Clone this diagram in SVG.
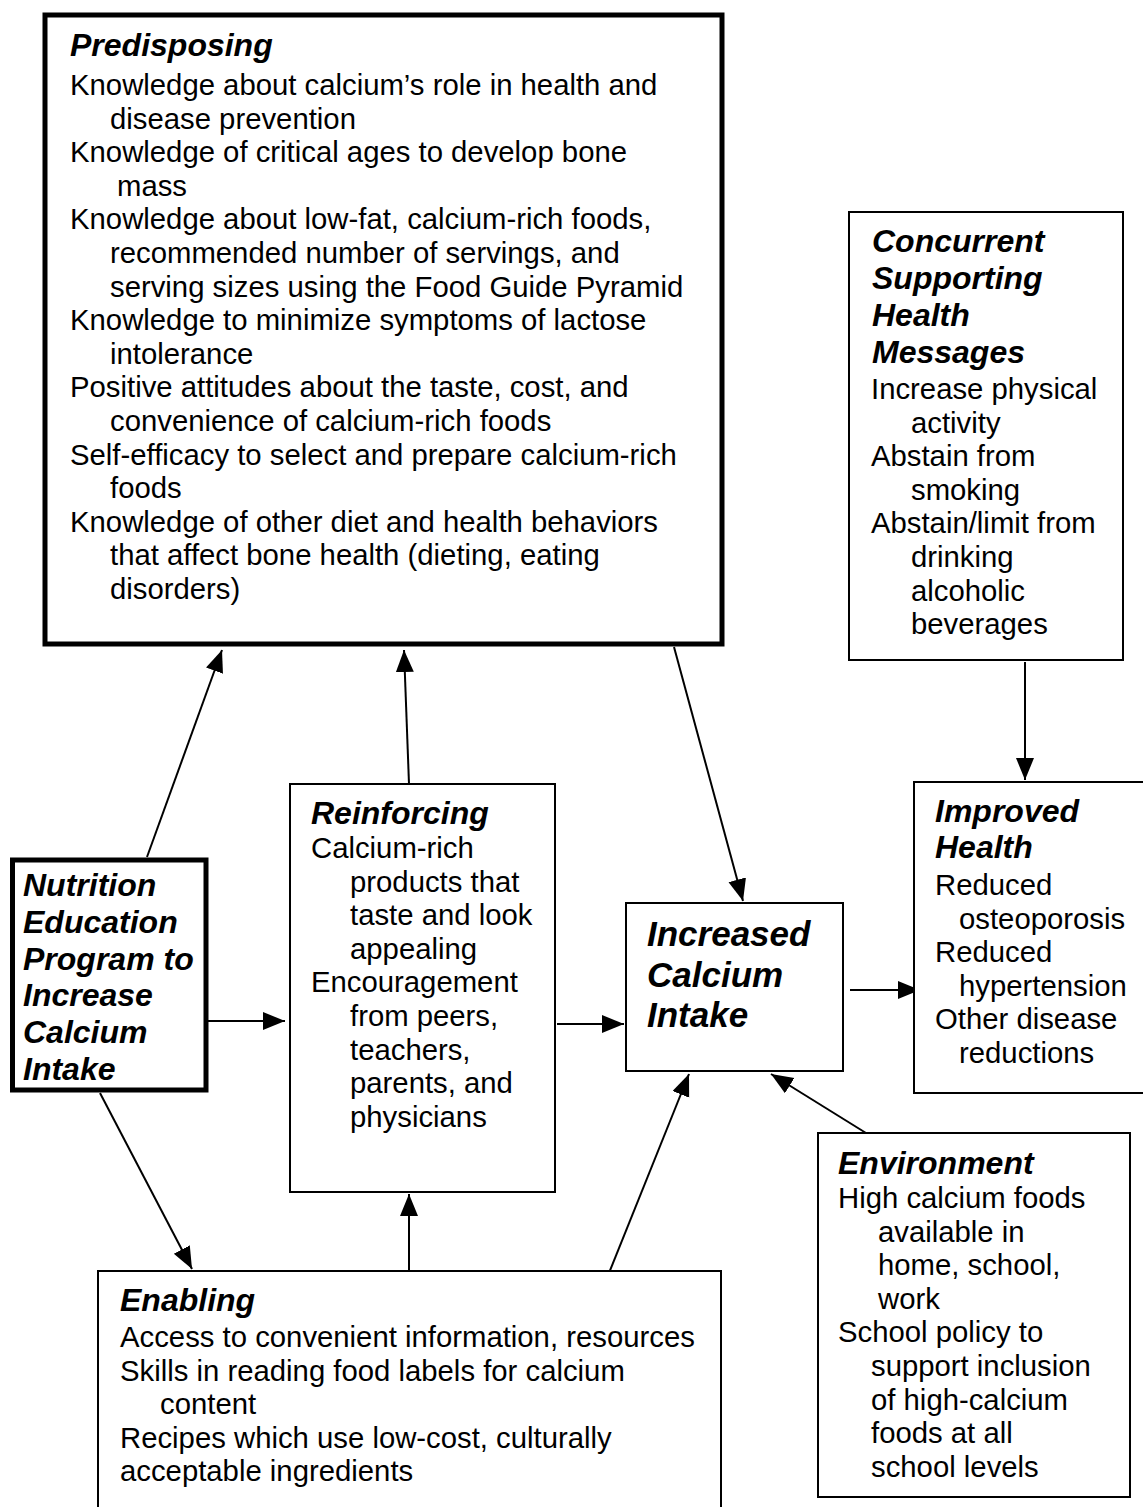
<svg xmlns="http://www.w3.org/2000/svg" width="1143" height="1507" viewBox="0 0 1143 1507">
<style>
.box{fill:#fff;stroke:#000;stroke-width:2}
.thick{fill:#fff;stroke:#000;stroke-width:5}
.t{font-family:"Liberation Sans",Arial,sans-serif;font-weight:bold;font-style:italic;font-size:32px;fill:#000}
.big{font-family:"Liberation Sans",Arial,sans-serif;font-weight:bold;font-style:italic;font-size:35px;fill:#000}
.b{font-family:"Liberation Sans",Arial,sans-serif;font-size:29.3px;fill:#000}
.c{stroke:#000;stroke-width:2;fill:none;marker-end:url(#ah)}
</style>
<defs>
<marker id="ah" markerUnits="userSpaceOnUse" markerWidth="24" markerHeight="20" refX="22" refY="9" orient="auto">
<path d="M0,0 L22,9 L0,18 z" fill="#000"/>
</marker>
</defs>
<rect width="1143" height="1507" fill="#fff"/>

<g id="connectors">
<line class="c" x1="147" y1="857" x2="222" y2="650"/>
<line class="c" x1="409" y1="784" x2="404" y2="650"/>
<line class="c" x1="674" y1="647" x2="743" y2="901"/>
<line class="c" x1="208" y1="1021" x2="285" y2="1021"/>
<line class="c" x1="557" y1="1024" x2="624" y2="1024"/>
<line class="c" x1="850" y1="990" x2="920" y2="990"/>
<line class="c" x1="1025" y1="662" x2="1025" y2="780"/>
<line class="c" x1="100" y1="1093" x2="192" y2="1269"/>
<line class="c" x1="409" y1="1273" x2="409" y2="1194"/>
<line class="c" x1="609" y1="1273" x2="689" y2="1074"/>
<line class="c" x1="866" y1="1133" x2="771" y2="1074"/>
</g>

<g id="predisposing">
<rect class="thick" x="45" y="15" width="677" height="629"/>
<text class="t" x="70" y="56">Predisposing</text>
<text class="b">
<tspan x="70" y="95">Knowledge about calcium’s role in health and</tspan>
<tspan x="110" y="128.6">disease prevention</tspan>
<tspan x="70" y="162.2">Knowledge of critical ages to develop bone</tspan>
<tspan x="117" y="195.8">mass</tspan>
<tspan x="70" y="229.4">Knowledge about low-fat, calcium-rich foods,</tspan>
<tspan x="110" y="263">recommended number of servings, and</tspan>
<tspan x="110" y="296.6">serving sizes using the Food Guide Pyramid</tspan>
<tspan x="70" y="330.2">Knowledge to minimize symptoms of lactose</tspan>
<tspan x="110" y="363.8">intolerance</tspan>
<tspan x="70" y="397.4">Positive attitudes about the taste, cost, and</tspan>
<tspan x="110" y="431">convenience of calcium-rich foods</tspan>
<tspan x="70" y="464.6">Self-efficacy to select and prepare calcium-rich</tspan>
<tspan x="110" y="498.2">foods</tspan>
<tspan x="70" y="531.8">Knowledge of other diet and health behaviors</tspan>
<tspan x="110" y="565.4">that affect bone health (dieting, eating</tspan>
<tspan x="110" y="599">disorders)</tspan>
</text>
</g>

<g id="concurrent">
<rect class="box" x="849" y="212" width="274" height="448"/>
<text class="t">
<tspan x="872" y="252">Concurrent</tspan>
<tspan x="872" y="289">Supporting</tspan>
<tspan x="872" y="326">Health</tspan>
<tspan x="872" y="363">Messages</tspan>
</text>
<text class="b">
<tspan x="871" y="399">Increase physical</tspan>
<tspan x="911" y="432.6">activity</tspan>
<tspan x="871" y="466.2">Abstain from</tspan>
<tspan x="911" y="499.8">smoking</tspan>
<tspan x="871" y="533.4">Abstain/limit from</tspan>
<tspan x="911" y="567">drinking</tspan>
<tspan x="911" y="600.6">alcoholic</tspan>
<tspan x="911" y="634.2">beverages</tspan>
</text>
</g>

<g id="improved">
<rect class="box" x="914" y="782" width="240" height="311"/>
<text class="t">
<tspan x="935" y="822">Improved</tspan>
<tspan x="935" y="858">Health</tspan>
</text>
<text class="b">
<tspan x="935" y="895">Reduced</tspan>
<tspan x="959" y="928.6">osteoporosis</tspan>
<tspan x="935" y="962.2">Reduced</tspan>
<tspan x="959" y="995.8">hypertension</tspan>
<tspan x="935" y="1029.4">Other disease</tspan>
<tspan x="959" y="1063">reductions</tspan>
</text>
</g>

<g id="reinforcing">
<rect class="box" x="290" y="784" width="265" height="408"/>
<text class="t" x="311" y="824">Reinforcing</text>
<text class="b">
<tspan x="311" y="858">Calcium-rich</tspan>
<tspan x="350" y="891.6">products that</tspan>
<tspan x="350" y="925.2">taste and look</tspan>
<tspan x="350" y="958.8">appealing</tspan>
<tspan x="311" y="992.4">Encouragement</tspan>
<tspan x="350" y="1026">from peers,</tspan>
<tspan x="350" y="1059.6">teachers,</tspan>
<tspan x="350" y="1093.2">parents, and</tspan>
<tspan x="350" y="1126.8">physicians</tspan>
</text>
</g>

<g id="nutrition">
<rect class="thick" x="12.5" y="860" width="193.5" height="230"/>
<text class="t">
<tspan x="23" y="896">Nutrition</tspan>
<tspan x="23" y="932.8">Education</tspan>
<tspan x="23" y="969.6">Program to</tspan>
<tspan x="23" y="1006.4">Increase</tspan>
<tspan x="23" y="1043.2">Calcium</tspan>
<tspan x="23" y="1080">Intake</tspan>
</text>
</g>

<g id="increased">
<rect class="box" x="626" y="903" width="217" height="168"/>
<text class="big">
<tspan x="647" y="946">Increased</tspan>
<tspan x="647" y="986.5">Calcium</tspan>
<tspan x="647" y="1027">Intake</tspan>
</text>
</g>

<g id="enabling">
<rect class="box" x="98" y="1271" width="623" height="260"/>
<text class="t" x="120" y="1311">Enabling</text>
<text class="b">
<tspan x="120" y="1347">Access to convenient information, resources</tspan>
<tspan x="120" y="1380.6">Skills in reading food labels for calcium</tspan>
<tspan x="160" y="1414.2">content</tspan>
<tspan x="120" y="1447.8">Recipes which use low-cost, culturally</tspan>
<tspan x="120" y="1481.4">acceptable ingredients</tspan>
</text>
</g>

<g id="environment">
<rect class="box" x="818" y="1133" width="312" height="364"/>
<text class="t" x="838" y="1174">Environment</text>
<text class="b">
<tspan x="838" y="1208">High calcium foods</tspan>
<tspan x="878" y="1241.6">available in</tspan>
<tspan x="878" y="1275.2">home, school,</tspan>
<tspan x="878" y="1308.8">work</tspan>
<tspan x="838" y="1342.4">School policy to</tspan>
<tspan x="871" y="1376">support inclusion</tspan>
<tspan x="871" y="1409.6">of high-calcium</tspan>
<tspan x="871" y="1443.2">foods at all</tspan>
<tspan x="871" y="1476.8">school levels</tspan>
</text>
</g>
</svg>
